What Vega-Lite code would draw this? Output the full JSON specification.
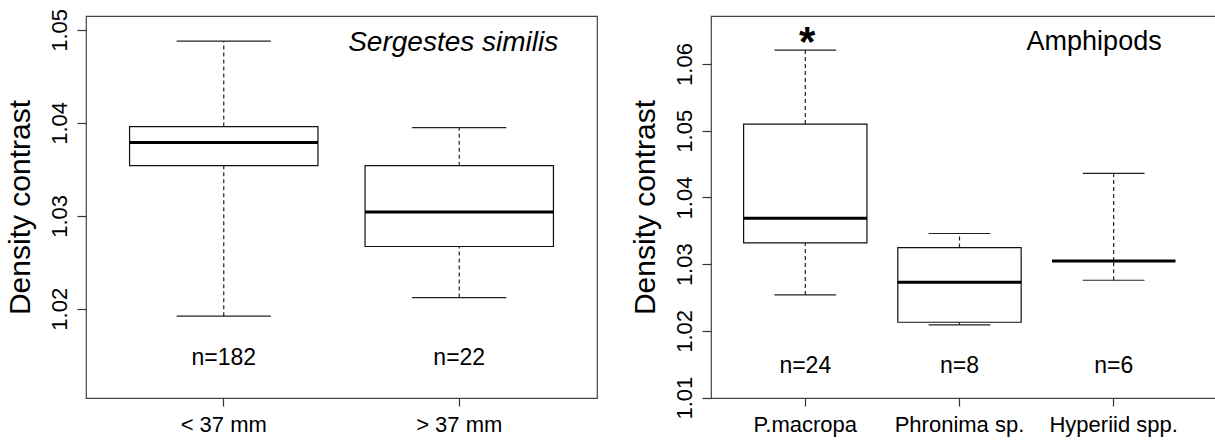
{
  "$schema": "https://vega.github.io/schema/vega-lite/v6.json",
  "autosize": {"type": "pad"},
  "padding": {"left": 4, "top": 7, "right": 0, "bottom": 5},
  "bounds": "flush",
  "spacing": 114,
  "background": "white",
  "config": {
    "font": "Liberation Sans",
    "view": {"stroke": "#444", "strokeWidth": 1.2},
    "axis": {"grid": false, "domain": false, "tickColor": "#333", "tickWidth": 1.2, "labelColor": "#000", "titleColor": "#000", "labelFont": "Liberation Sans", "titleFont": "Liberation Sans", "titleFontWeight": "normal", "labelOverlap": false, "labelFlush": false},
    "axisX": {"tickSize": 8, "labelFontSize": 22, "labelPadding": 8, "labelAngle": 0},
    "axisY": {"tickSize": 9, "labelFontSize": 22, "labelPadding": 11, "labelAngle": -90, "labelAlign": "center", "labelBaseline": "alphabetic", "titleFontSize": 30, "titlePadding": 19, "titleBaseline": "alphabetic"}
  },
  "datasets": {
    "shrimp": [
      {"group": "< 37 mm", "lo": 1.0192, "q1": 1.0354, "med": 1.0379, "q3": 1.0396, "hi": 1.0488, "n": "n=182"},
      {"group": "> 37 mm", "lo": 1.0212, "q1": 1.0267, "med": 1.0304, "q3": 1.0354, "hi": 1.0395, "n": "n=22"}
    ],
    "amph": [
      {"group": "P.macropa", "lo": 1.0254, "q1": 1.0332, "med": 1.0369, "q3": 1.0510, "hi": 1.0621, "n": "n=24"},
      {"group": "Phronima sp.", "lo": 1.0209, "q1": 1.0213, "med": 1.0273, "q3": 1.0325, "hi": 1.0346, "n": "n=8"},
      {"group": "Hyperiid spp.", "lo": 1.0276, "q1": 1.0305, "med": 1.0305, "q3": 1.0305, "hi": 1.0436, "n": "n=6"}
    ],
    "shrimpNote": [
      {"group": "> 37 mm", "y": 1.0477, "label": "Sergestes similis"}
    ],
    "amphNote": [
      {"group": "Hyperiid spp.", "y": 1.0621, "label": "Amphipods"}
    ],
    "amphStar": [
      {"group": "P.macropa", "y": 1.0612, "label": "*"}
    ]
  },
  "hconcat": [
    {
      "width": 511,
      "height": 382,
      "data": {"name": "shrimp"},
      "encoding": {
        "x": {"field": "group", "type": "nominal", "scale": {"domain": ["< 37 mm", "> 37 mm"], "paddingInner": 0, "paddingOuter": 0.085}, "axis": {"title": null}}
      },
      "layer": [
        {
          "mark": {"type": "rule", "strokeDash": [4, 3], "color": "#222", "strokeWidth": 1.2},
          "encoding": {
            "y": {"field": "lo", "type": "quantitative", "title": "Density contrast", "scale": {"domain": [1.0104, 1.0515], "nice": false, "zero": false}, "axis": {"values": [1.02, 1.03, 1.04, 1.05], "format": ".2f"}},
            "y2": {"field": "q1"}
          }
        },
        {
          "mark": {"type": "rule", "strokeDash": [4, 3], "color": "#222", "strokeWidth": 1.2},
          "encoding": {
            "y": {"field": "q3", "type": "quantitative", "title": "Density contrast"},
            "y2": {"field": "hi"}
          }
        },
        {
          "mark": {"type": "bar", "fill": "white", "stroke": "#111", "strokeWidth": 1.2, "width": {"band": 0.8}},
          "encoding": {
            "y": {"field": "q1", "type": "quantitative", "title": "Density contrast"},
            "y2": {"field": "q3"}
          }
        },
        {
          "mark": {"type": "tick", "color": "#000", "opacity": 1, "thickness": 3, "size": 188.4},
          "encoding": {"y": {"field": "med", "type": "quantitative", "title": "Density contrast"}}
        },
        {
          "mark": {"type": "tick", "color": "#222", "opacity": 1, "thickness": 1.2, "size": 94.2},
          "encoding": {"y": {"field": "lo", "type": "quantitative", "title": "Density contrast"}}
        },
        {
          "mark": {"type": "tick", "color": "#222", "opacity": 1, "thickness": 1.2, "size": 94.2},
          "encoding": {"y": {"field": "hi", "type": "quantitative", "title": "Density contrast"}}
        },
        {
          "mark": {"type": "text", "fontSize": 23, "color": "#000", "baseline": "alphabetic", "align": "center"},
          "encoding": {
            "y": {"datum": 1.0139, "type": "quantitative", "title": "Density contrast"},
            "text": {"field": "n"}
          }
        },
        {
          "data": {"name": "shrimpNote"},
          "mark": {"type": "text", "fontSize": 28, "fontStyle": "italic", "color": "#000", "baseline": "alphabetic", "align": "right", "dx": 99},
          "encoding": {
            "y": {"field": "y", "type": "quantitative", "title": "Density contrast"},
            "text": {"field": "label"}
          }
        }
      ]
    },
    {
      "width": 515,
      "height": 382,
      "data": {"name": "amph"},
      "encoding": {
        "x": {"field": "group", "type": "nominal", "scale": {"domain": ["P.macropa", "Phronima sp.", "Hyperiid spp."], "paddingInner": 0, "paddingOuter": 0.17, "align": 0.328}, "axis": {"title": null}}
      },
      "layer": [
        {
          "mark": {"type": "rule", "strokeDash": [4, 3], "color": "#222", "strokeWidth": 1.2},
          "encoding": {
            "y": {"field": "lo", "type": "quantitative", "title": "Density contrast", "scale": {"domain": [1.00995, 1.0672], "nice": false, "zero": false}, "axis": {"values": [1.01, 1.02, 1.03, 1.04, 1.05, 1.06], "format": ".2f"}},
            "y2": {"field": "q1"}
          }
        },
        {
          "mark": {"type": "rule", "strokeDash": [4, 3], "color": "#222", "strokeWidth": 1.2},
          "encoding": {
            "y": {"field": "q3", "type": "quantitative", "title": "Density contrast"},
            "y2": {"field": "hi"}
          }
        },
        {
          "mark": {"type": "bar", "fill": "white", "stroke": "#111", "strokeWidth": 1.2, "width": {"band": 0.8}},
          "encoding": {
            "y": {"field": "q1", "type": "quantitative", "title": "Density contrast"},
            "y2": {"field": "q3"}
          }
        },
        {
          "mark": {"type": "tick", "color": "#000", "opacity": 1, "thickness": 3, "size": 123.4},
          "encoding": {"y": {"field": "med", "type": "quantitative", "title": "Density contrast"}}
        },
        {
          "mark": {"type": "tick", "color": "#222", "opacity": 1, "thickness": 1.2, "size": 61.7},
          "encoding": {"y": {"field": "lo", "type": "quantitative", "title": "Density contrast"}}
        },
        {
          "mark": {"type": "tick", "color": "#222", "opacity": 1, "thickness": 1.2, "size": 61.7},
          "encoding": {"y": {"field": "hi", "type": "quantitative", "title": "Density contrast"}}
        },
        {
          "mark": {"type": "text", "fontSize": 23, "color": "#000", "baseline": "alphabetic", "align": "center"},
          "encoding": {
            "y": {"datum": 1.0137, "type": "quantitative", "title": "Density contrast"},
            "text": {"field": "n"}
          }
        },
        {
          "data": {"name": "amphNote"},
          "mark": {"type": "text", "fontSize": 27, "color": "#000", "baseline": "alphabetic", "align": "right", "dx": 48},
          "encoding": {
            "y": {"field": "y", "type": "quantitative", "title": "Density contrast"},
            "text": {"field": "label"}
          }
        },
        {
          "data": {"name": "amphStar"},
          "mark": {"type": "text", "fontSize": 42, "fontWeight": "bold", "color": "#000", "baseline": "alphabetic", "align": "center", "dx": 2},
          "encoding": {
            "y": {"field": "y", "type": "quantitative", "title": "Density contrast"},
            "text": {"field": "label"}
          }
        }
      ]
    }
  ]
}
